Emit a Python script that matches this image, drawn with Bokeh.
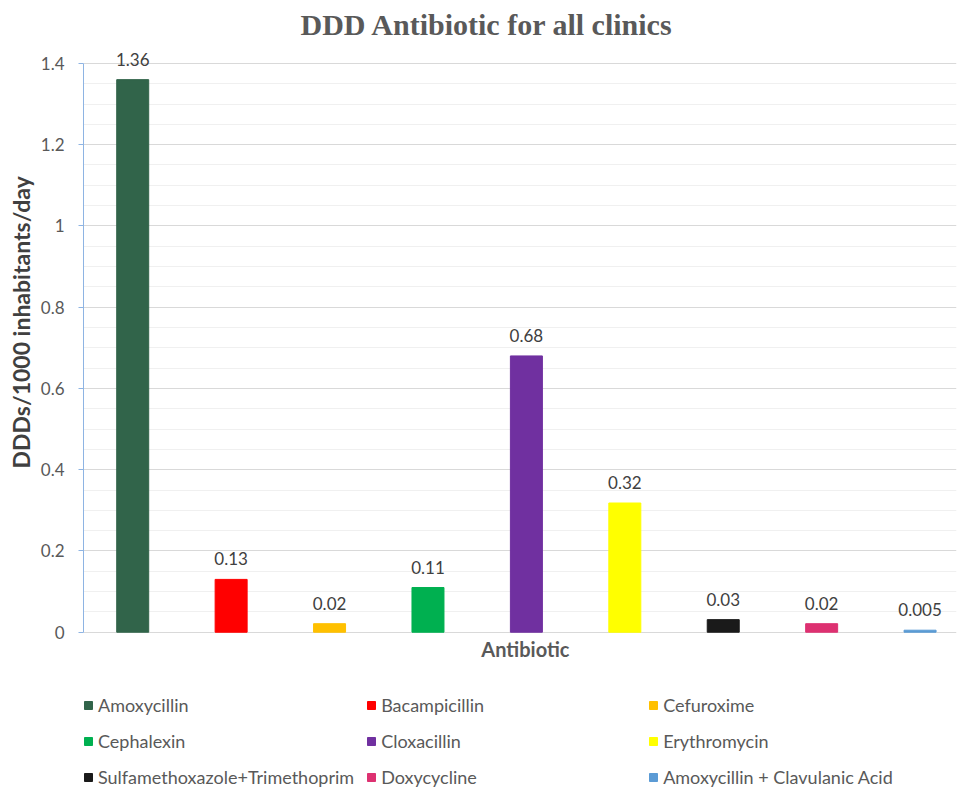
from bokeh.plotting import figure
from bokeh.models import (Range1d, FixedTicker, Legend, LegendItem, ColumnDataSource, Title, Label)
from bokeh.core.properties import value
from bokeh.embed import file_html
from bokeh.resources import INLINE

antibiotics = ["Amoxycillin", "Bacampicillin", "Cefuroxime", "Cephalexin", "Cloxacillin",
               "Erythromycin", "Sulfamethoxazole+Trimethoprim", "Doxycycline",
               "Amoxycillin + Clavulanic Acid"]
ddd_values = [1.36, 0.13, 0.021, 0.11, 0.68, 0.318, 0.031, 0.021, 0.005]
value_labels = ["1.36", "0.13", "0.02", "0.11", "0.68", "0.32", "0.03", "0.02", "0.005"]
colors = ["#31644A", "#FF0000", "#FFC000", "#00B050", "#7030A0", "#FFFF00",
          "#1A1A1A", "#DD3171", "#5B9BD5"]
y_ticks = [0, 0.2, 0.4, 0.6, 0.8, 1, 1.2, 1.4]
y_tick_labels = ["0", "0.2", "0.4", "0.6", "0.8", "1", "1.2", "1.4"]
y_minor = [0.05, 0.1, 0.15, 0.25, 0.3, 0.35, 0.45, 0.5, 0.55, 0.65, 0.7, 0.75,
           0.85, 0.9, 0.95, 1.05, 1.1, 1.15, 1.25, 1.3, 1.35]

FONT = "Lato"
GREY = "#595959"

src = ColumnDataSource(dict(x=list(range(len(antibiotics))), top=ddd_values,
                            lab=value_labels, color=colors, name=antibiotics))

# frame spans the whole height below the title; legend and x label live inside it
p = figure(width=958, height=791, x_range=Range1d(-0.5, 8.37), y_range=Range1d(-0.392, 1.444),
           output_backend="svg", toolbar_location=None, x_axis_location=None,
           min_border_left=83, min_border_right=2, min_border_top=40, min_border_bottom=0)
p.outline_line_color = None

p.title = Title(text="DDD Antibiotic for all clinics", align="left", offset=217,
                text_font="Liberation Serif", text_font_size="30px", text_font_style="bold",
                text_color=GREY)

r = p.vbar(x="x", top="top", width=0.325, color="color", source=src)
p.text(x="x", y="top", text="lab", source=src, text_align="center", text_baseline="bottom",
       y_offset=-14, text_font=value(FONT), text_font_size="17px", text_color="#404040")

# y axis
yax = p.yaxis[0]
yax.bounds = (0, 1.4)
yax.ticker = FixedTicker(ticks=y_ticks, minor_ticks=y_minor)
yax.major_label_overrides = {t: l for t, l in zip(y_ticks, y_tick_labels)}
yax.axis_line_color = "#8EB4E3"
yax.major_tick_line_color = "#8EB4E3"
yax.major_tick_in = 0
yax.major_tick_out = 5
yax.minor_tick_line_color = None
yax.major_label_text_font = FONT
yax.major_label_text_font_size = "17px"
yax.major_label_text_color = GREY
yax.major_label_standoff = 14

p.add_layout(Title(text="DDDs/1000 inhabitants/day", align="left", offset=323,
                   text_font=FONT, text_font_size="23px", text_font_style="bold",
                   text_color="#404040", standoff=6), "left")

p.add_layout(Label(x=3.99, y=-0.042, text="Antibiotic", text_align="center",
                   text_baseline="middle", text_font=FONT, text_font_size="20px",
                   text_font_style="bold", text_color=GREY))

p.xgrid.grid_line_color = None
p.ygrid.ticker = FixedTicker(ticks=y_ticks, minor_ticks=y_minor)
p.ygrid.grid_line_color = "#D9D9D9"
p.ygrid.minor_grid_line_color = "#F0F0F0"

items = [LegendItem(label=n, renderers=[r], index=i) for i, n in enumerate(antibiotics)]
legend = Legend(items=items, ncols=3, orientation="horizontal", location=(0, 2),
                glyph_width=10, glyph_height=10, label_standoff=5, label_width=255,
                label_height=24, spacing=12, padding=0, margin=0,
                border_line_color=None, background_fill_alpha=0,
                label_text_font=FONT, label_text_font_size="18px", label_text_color=GREY)
p.add_layout(legend, "center")

open("out.html", "w").write(file_html(p, INLINE))
